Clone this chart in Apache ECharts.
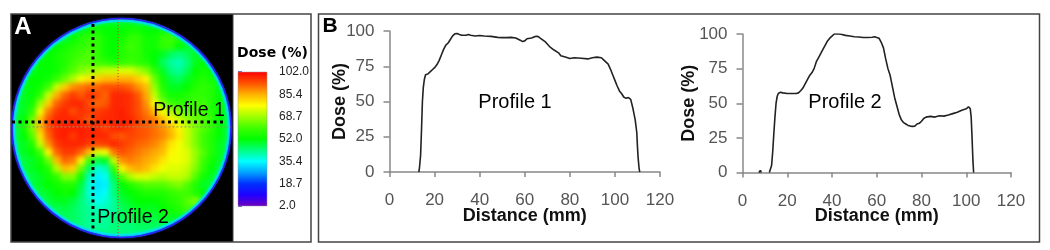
<!DOCTYPE html>
<html><head><meta charset="utf-8">
<script src="https://cdn.jsdelivr.net/npm/echarts@6/dist/echarts.min.js"></script>
<style>
html,body{margin:0;padding:0;background:#fff;width:1050px;height:250px;overflow:hidden}
#clip{position:absolute;left:11px;top:14px;width:222px;height:228px;overflow:hidden;background:#000}
#disk{position:absolute;left:0;top:0;width:222px;height:228px;clip-path:circle(110px at 110.5px 114px)}
#heat{position:absolute;left:0;top:0;width:222px;height:228px;filter:blur(2.5px)}
#main{position:absolute;left:0;top:0;width:1050px;height:250px}
</style></head><body>
<div id="clip"><div id="disk"><div id="heat"></div></div></div>
<div id="main"></div>
<script>
const doseStops=["#7000c0","#2000ff","#0030ff","#00a0ff","#00ffff","#00ff80","#00ff00","#40ff00","#a0ff00","#ffff00","#ffb000","#ff5000","#ff0000"];
const colorbarTicks=[2,18.7,35.4,52,68.7,85.4,102];
const doseGrid=[
[46,46,46,46,46,46,46,46,46,48,48,50,50,50,50,48,48,46,46,46,46,46,46,46,46,46,46],
[46,46,46,46,46,46,46,48,50,54,54,52,52,52,54,54,52,52,54,54,50,48,46,46,46,46,46],
[46,46,46,46,46,48,48,52,56,58,58,54,52,54,58,58,54,54,58,60,56,50,48,46,46,46,46],
[46,46,46,48,50,52,54,56,58,60,58,54,52,56,60,58,54,54,58,58,52,50,50,48,46,46,46],
[46,46,48,50,52,54,56,58,60,62,58,54,52,56,58,58,54,52,50,46,44,46,50,50,48,46,46],
[46,48,50,52,52,54,56,60,62,62,60,58,56,58,60,58,56,52,46,42,40,44,50,52,50,48,46],
[46,48,50,52,52,54,58,62,66,68,70,72,72,74,74,70,66,58,50,44,42,46,52,54,52,50,46],
[48,50,52,52,54,58,64,70,76,80,82,84,84,85,85,82,78,64,54,48,46,50,54,56,54,50,48],
[48,50,52,54,60,72,82,88,90,92,92,94,94,94,92,88,84,68,56,50,50,52,56,58,56,50,48],
[48,50,52,58,72,85,92,96,93,97,95,92,98,98,97,93,86,72,60,54,54,56,58,58,56,52,48],
[48,50,54,68,82,92,96,98,98,94,92,93,98,98,97,94,88,76,66,60,58,58,60,60,56,52,48],
[48,50,58,76,90,96,98,94,97,96,96,97,98,99,97,94,90,84,76,70,66,62,62,60,56,52,48],
[48,52,64,84,94,98,98,98,96,93,97,98,98,99,98,95,92,90,84,78,72,68,64,62,58,52,48],
[48,54,66,84,94,98,99,99,99,98,98,95,98,98,96,94,93,91,88,84,78,72,66,62,58,52,48],
[48,52,62,80,92,98,99,96,99,98,98,98,94,93,95,94,93,91,89,85,79,72,66,60,56,52,48],
[48,50,56,72,88,96,98,98,98,96,95,96,98,96,94,92,91,89,86,80,76,72,66,60,56,50,48],
[48,50,52,60,78,92,96,96,92,84,74,76,90,94,92,90,88,86,84,78,76,74,68,62,56,50,48],
[46,48,50,54,64,84,92,90,78,60,48,50,72,88,90,88,86,84,80,76,76,74,68,60,54,50,46],
[46,48,50,52,56,70,84,82,64,46,38,40,58,78,84,86,84,80,76,74,74,72,66,58,52,48,46],
[46,46,48,50,54,58,66,66,54,40,34,36,48,62,70,74,74,72,70,72,72,70,62,54,50,46,46],
[46,46,48,50,52,54,56,56,48,38,33,34,44,52,56,60,62,62,62,64,66,62,56,50,48,46,46],
[46,46,46,48,50,52,54,52,46,38,34,36,44,50,52,54,56,56,56,58,60,60,56,52,48,46,46],
[46,46,46,46,48,50,50,48,44,40,36,38,42,48,50,52,52,52,54,56,58,62,66,58,46,46,46],
[46,46,46,46,46,46,48,46,44,42,40,40,42,46,48,50,50,50,52,54,56,60,60,48,46,46,46],
[46,46,46,46,46,46,46,46,44,42,42,42,44,46,48,48,48,48,50,50,50,48,46,46,46,46,46],
[46,46,46,46,46,46,46,46,44,42,42,42,44,44,44,46,46,46,46,46,46,46,46,46,46,46,46],
[46,46,46,46,46,46,46,46,46,44,44,44,44,44,44,44,44,44,44,46,46,46,46,46,46,46,46]
];
const profile1Distance=[13,13.3,13.8,14.2,14.6,15,15.5,16,17,18,19,20,21,22,23,24,25,26,27,28,29,30,31,32,33,34,35,36,38,40,42,45,48,50,52,54,56,58,59,60,61,63,65,66,67,69,71,73,75,76,78,80,82,85,88,90,92,94,95,97,98,99,100,101,102,103,104,105,106,107,108,109,109.7,110,110.3,110.7,111];
const profile1Dose=[0,3,12,30,50,60,66,69,69.5,71,72.5,74,76,79,83,87,90,91.5,94,96.5,98,98.2,97.5,97,97,97,97.5,97,96.5,96.8,96.5,96.2,95.5,95.3,95.3,95.5,95,93.5,92.5,93,94.5,95,96.3,96,94.8,92.5,89,86.5,84.5,82.5,81.5,80.5,81,80.7,80.2,81,81.5,81,79.5,76.5,73,69,65,61,57.5,55.5,53,52.3,52.8,51.5,45,37,28,18,10,3,0];
const profile2Distance=[7.3,7.7,8,8.4,10,12,12.5,13,13.5,14,14.5,15,15.5,16,17,18,20,22,24,25,26,27,28,29,30,31,32,33,34,35,36,37,38,39,40,41,43,44,46,48,50,52,54,56,58,59,61,62,63,64,65,66,67,68,69,70,71,72,73,74,75,76,77,78,79,80,81,82,84,86,88,90,92,94,96,98,100,101,101.8,102.2,102.6,103,103.3];
const profile2Dose=[0,1,1.5,0,null,0,1,5,15,28,40,50,55,57,58,57.5,57,57,57,57.5,59,61,64,67,70,72,75,80,83,86,89,92,95,97,98.5,100,100,99.8,99,98.5,98,97.8,97.5,97.5,97.7,98,97,94,90,82,75,70,62,54,48,42,38,36,35,34,33.5,33.3,33.5,35,35.5,37,39,40,40.5,40,41,40.7,41.5,42.5,43.5,45,46,47.5,46,40,25,8,0];
const sans='"Liberation Sans",Arial,sans-serif';
const zip=(a,b)=>a.map((v,i)=>[v,b[i]]);

const heat=echarts.init(document.getElementById('heat'),null,{renderer:'canvas'});
const cells=[];doseGrid.forEach((row,i)=>row.forEach((v,j)=>cells.push([j,i,v])));
const idx=doseGrid.map((_,i)=>i);
heat.setOption({animation:false,backgroundColor:'#4fe08a',
 grid:{left:1,top:4,width:220,height:220},
 xAxis:{type:'category',data:idx,show:false},
 yAxis:{type:'category',data:idx,show:false,inverse:true},
 visualMap:{show:false,min:2,max:102,inRange:{color:doseStops},seriesIndex:0},
 series:[{type:'heatmap',data:cells,progressive:0,emphasis:{disabled:true}}]
});

const main=echarts.init(document.getElementById('main'),null,{renderer:'canvas'});
const txt=(x,y,t,font,fill)=>({type:'text',x,y,z:50,style:{text:t,font,fill:fill||'#000',align:'center',verticalAlign:'middle'}});
const plotAxes=(g,yGap)=>({
 x:{type:'value',gridIndex:g,min:0,max:120,interval:20,name:'Distance (mm)',nameLocation:'middle',nameGap:35,nameMoveOverlap:false,
  nameTextStyle:{fontFamily:sans,fontWeight:'bold',fontSize:18,color:'#111'},
  axisLine:{onZero:false,lineStyle:{color:'#888',width:1.5}},axisTick:{show:true,length:5,lineStyle:{color:'#888',width:1.5}},
  axisLabel:{show:true,margin:20,fontFamily:sans,fontSize:17,color:'#555',showMinLabel:true,showMaxLabel:true,hideOverlap:false},splitLine:{show:false}},
 y:{type:'value',gridIndex:g,min:0,max:100,interval:25,name:'Dose (%)',nameLocation:'middle',nameGap:yGap,nameMoveOverlap:false,
  nameTextStyle:{fontFamily:sans,fontWeight:'bold',fontSize:18,color:'#111'},
  axisLine:{show:true,lineStyle:{color:'#888',width:1.5}},axisTick:{show:true,length:6,lineStyle:{color:'#888',width:1.5}},
  axisLabel:{margin:15,fontFamily:sans,fontSize:17,color:'#555'},splitLine:{show:false}}
});
const a2=plotAxes(2,40),a3=plotAxes(3,44);
const hidden=(g,inv)=>({type:'value',gridIndex:g,min:0,max:1,show:false,inverse:!!inv});
const guide=(data,color,width,dash,z)=>({type:'line',xAxisIndex:0,yAxisIndex:0,data,symbol:'none',silent:true,clip:false,z:z||5,lineStyle:{color,width,type:dash}});
const barStops=doseStops.map((c,i)=>({offset:1-i/(doseStops.length-1),color:c})).reverse();
main.setOption({animation:false,backgroundColor:'transparent',
 grid:[
  {left:12,top:18,width:220,height:220},
  {left:238,top:72,width:35,height:134},
  {left:389.5,top:31,width:270.5,height:141},
  {left:742.5,top:34,width:268.5,height:138.5}
 ],
 xAxis:[hidden(0),{type:'value',gridIndex:1,min:0,max:1,show:false},a2.x,a3.x],
 yAxis:[hidden(0,true),
  {type:'value',gridIndex:1,position:'right',min:2,max:102,
   axisLine:{show:false},splitLine:{show:false},
   axisTick:{show:true,length:4,customValues:colorbarTicks,lineStyle:{color:'#3030e0',width:1.5}},
   axisLabel:{show:true,margin:6,customValues:colorbarTicks,formatter:v=>v.toFixed(1),fontFamily:sans,fontSize:12,color:'#222'}},
  a2.y,a3.y],
 graphic:[
  {type:'rect',z:-10,shape:{x:233,y:14,width:78,height:228},style:{fill:'#fff'}},
  {type:'rect',z:-9,shape:{x:11,y:14,width:300,height:228},style:{fill:'none',stroke:'#444',lineWidth:1.5}},
  {type:'line',z:-9,shape:{x1:233,y1:14,x2:233,y2:242},style:{stroke:'#444',lineWidth:1}},
  {type:'rect',z:-9,shape:{x:318.5,y:14,width:721,height:228},style:{fill:'none',stroke:'#444',lineWidth:1.5}},
  {type:'circle',z:1,shape:{cx:121.5,cy:128,r:107.5},style:{fill:'none',stroke:'rgba(0,225,255,0.8)',lineWidth:2.5,shadowBlur:3,shadowColor:'rgba(0,225,255,0.8)'}},
  {type:'circle',z:2,shape:{cx:121.5,cy:128,r:109.5},style:{fill:'none',stroke:'rgba(42,24,255,0.85)',lineWidth:1.6,shadowBlur:1.5,shadowColor:'#2a18ff'}},
  {type:'rect',z:1,shape:{x:238,y:72,width:29,height:134},style:{fill:new echarts.graphic.LinearGradient(0,0,0,1,barStops),stroke:'#999',lineWidth:0.5}},
  txt(23,27,'A','bold 24px '+sans,'#fff'),
  txt(330,26,'B','bold 21px '+sans),
  txt(272.5,53,'Dose (%)','bold 14px "DejaVu Sans"'),
  txt(189,111,'Profile 1','19.5px '+sans),
  txt(133,218,'Profile 2','19.5px '+sans),
  txt(515,102,'Profile 1','20px '+sans),
  txt(845,102,'Profile 2','20px '+sans)
 ],
 series:[
  guide([[.482,.005],[.482,.995]],'#e03030',1,[1,2],3),
  guide([[.02,.495],[1,.495]],'#8a9a70',1,[2,2],3),
  guide([[0,.473],[.96,.473]],'#000',3,[3,3.5]),
  guide([[.368,.027],[.368,.964]],'#000',3,[3,3.5]),
  {type:'line',xAxisIndex:2,yAxisIndex:2,data:zip(profile1Distance,profile1Dose),symbol:'none',lineStyle:{color:'#222',width:1.6}},
  {type:'line',xAxisIndex:3,yAxisIndex:3,data:zip(profile2Distance,profile2Dose),symbol:'none',lineStyle:{color:'#222',width:1.6}}
 ]
});
</script></body></html>
